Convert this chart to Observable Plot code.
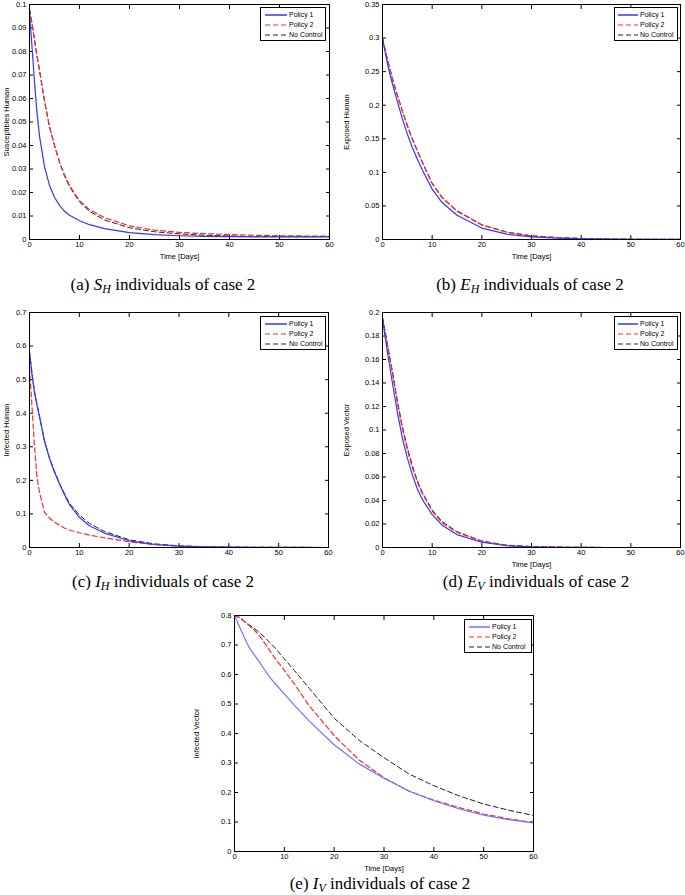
<!DOCTYPE html>
<html>
<head>
<meta charset="utf-8">
<script src="https://cdn.jsdelivr.net/npm/d3@7"></script>
<script src="https://cdn.jsdelivr.net/npm/@observablehq/plot@0.6"></script>
<style>
  body { margin: 0; background: #fff; }
  #fig { position: relative; width: 685px; height: 895px; overflow: hidden; background: #fff; }
  .panel { position: absolute; }
  .legend { position: absolute; background: #fff; border: 1px solid #000; box-sizing: border-box;
            font-family: "Liberation Sans", Arial, sans-serif; font-size: 7px; color: #000; }
  .legend .row { position: absolute; left: 0; height: 8px; line-height: 8px; white-space: nowrap; }
  .legend svg { position: absolute; top: 0; }
  .legend span { position: absolute; top: 0; }
  .caption { position: absolute; text-align: center; font-family: "Liberation Serif", "Times New Roman", serif;
             font-size: 17px; line-height: 18px; color: #000; white-space: nowrap; }
  .caption sub { font-size: 12px; line-height: 0; vertical-align: -3px; font-style: italic; }
</style>
</head>
<body>
<div id="fig"></div>
<script>
// ---------- data ----------
const time = [0, 0.5, 1, 1.5, 2, 3, 4, 5, 6, 7, 8, 10, 12, 15, 20, 25, 30, 35, 40, 45, 50, 55, 60];
const seriesNames = ["Policy 1", "Policy 2", "No Control"];
const xTicks = [0, 10, 20, 30, 40, 50, 60];

// (a) Susceptibles Human
const sHPolicy1   = [0.097, 0.082, 0.067, 0.054, 0.044, 0.031, 0.023, 0.018, 0.0145, 0.012, 0.0103, 0.008, 0.0063, 0.0046, 0.0029, 0.0021, 0.0016, 0.0013, 0.0012, 0.0011, 0.0011, 0.0011, 0.0011];
const sHPolicy2   = [0.098, 0.092, 0.085, 0.078, 0.072, 0.059, 0.048, 0.040, 0.033, 0.0275, 0.023, 0.0165, 0.0127, 0.0093, 0.0058, 0.0040, 0.0030, 0.0025, 0.0021, 0.0018, 0.0016, 0.0015, 0.0014];
const sHNoControl = [0.098, 0.092, 0.085, 0.078, 0.072, 0.059, 0.048, 0.040, 0.033, 0.027, 0.0225, 0.0160, 0.0120, 0.0083, 0.0050, 0.0033, 0.0024, 0.0018, 0.0015, 0.0013, 0.0012, 0.0012, 0.0012];
const sHTicks = [0, 0.01, 0.02, 0.03, 0.04, 0.05, 0.06, 0.07, 0.08, 0.09, 0.1];

// (b) Exposed Human
const eHPolicy1   = [0.300, 0.280, 0.262, 0.246, 0.232, 0.205, 0.180, 0.157, 0.137, 0.120, 0.104, 0.075, 0.055, 0.036, 0.017, 0.008, 0.004, 0.002, 0.001, 0.0005, 0.0003, 0.0002, 0.0001];
const eHPolicy2   = [0.300, 0.283, 0.267, 0.253, 0.239, 0.214, 0.191, 0.169, 0.149, 0.132, 0.115, 0.083, 0.062, 0.042, 0.0215, 0.0108, 0.0054, 0.003, 0.0016, 0.0008, 0.0004, 0.0002, 0.0001];
const eHNoControl = [0.300, 0.284, 0.268, 0.254, 0.240, 0.215, 0.192, 0.170, 0.150, 0.133, 0.116, 0.084, 0.063, 0.043, 0.022, 0.011, 0.0055, 0.003, 0.0015, 0.0008, 0.0004, 0.0002, 0.0001];
const eHTicks = [0, 0.05, 0.1, 0.15, 0.2, 0.25, 0.3, 0.35];

// (c) Infected Human
const iHPolicy1   = [0.580, 0.515, 0.462, 0.425, 0.390, 0.318, 0.266, 0.225, 0.190, 0.158, 0.128, 0.090, 0.065, 0.043, 0.020, 0.009, 0.004, 0.002, 0.001, 0.0005, 0.0002, 0.0001, 0];
const iHPolicy2   = [0.535, 0.420, 0.300, 0.210, 0.165, 0.105, 0.088, 0.076, 0.066, 0.058, 0.052, 0.044, 0.037, 0.029, 0.017, 0.009, 0.004, 0.002, 0.001, 0.0005, 0.0002, 0.0001, 0];
const iHNoControl = [0.585, 0.520, 0.465, 0.428, 0.392, 0.318, 0.267, 0.228, 0.192, 0.161, 0.132, 0.097, 0.072, 0.048, 0.023, 0.011, 0.005, 0.0025, 0.001, 0.0005, 0.0002, 0.0001, 0];
const iHTicks = [0, 0.1, 0.2, 0.3, 0.4, 0.5, 0.6, 0.7];

// (d) Exposed Vector
const eVPolicy1   = [0.195, 0.180, 0.166, 0.153, 0.140, 0.115, 0.093, 0.076, 0.062, 0.050, 0.041, 0.028, 0.019, 0.011, 0.0045, 0.0015, 0.0005, 0.0002, 0.0001, 0, 0, 0, 0];
const eVPolicy2   = [0.195, 0.183, 0.172, 0.160, 0.148, 0.123, 0.101, 0.083, 0.068, 0.056, 0.046, 0.031, 0.021, 0.013, 0.0052, 0.0018, 0.0007, 0.0003, 0.0001, 0, 0, 0, 0];
const eVNoControl = [0.196, 0.185, 0.173, 0.161, 0.150, 0.125, 0.103, 0.085, 0.070, 0.057, 0.047, 0.032, 0.022, 0.0135, 0.0055, 0.002, 0.0008, 0.0003, 0.0001, 0, 0, 0, 0];
const eVTicks = [0, 0.02, 0.04, 0.06, 0.08, 0.1, 0.12, 0.14, 0.16, 0.18, 0.2];

// (e) Infected Vector
const iVPolicy1   = [0.800, 0.781, 0.762, 0.743, 0.724, 0.690, 0.666, 0.642, 0.617, 0.593, 0.572, 0.534, 0.496, 0.442, 0.362, 0.297, 0.248, 0.205, 0.172, 0.145, 0.123, 0.108, 0.097];
const iVPolicy2   = [0.800, 0.797, 0.793, 0.788, 0.780, 0.765, 0.750, 0.732, 0.708, 0.683, 0.658, 0.614, 0.568, 0.494, 0.393, 0.310, 0.250, 0.205, 0.174, 0.149, 0.127, 0.111, 0.098];
const iVNoControl = [0.800, 0.797, 0.792, 0.786, 0.779, 0.768, 0.756, 0.742, 0.727, 0.710, 0.693, 0.653, 0.614, 0.553, 0.452, 0.377, 0.318, 0.263, 0.223, 0.189, 0.161, 0.140, 0.122];
const iVTicks = [0, 0.1, 0.2, 0.3, 0.4, 0.5, 0.6, 0.7, 0.8];

// ---------- layout ----------
const fig = document.getElementById("fig");
const fmt = d3.format("~g");

const panels = [
  {left: 0, top: 0, w: 340, h: 270, frame: [29, 329, 4, 239], ymax: 0.1, yTicks: sHTicks, ylabel: "Susceptibles Human", xlabel: true,
   vals: [sHPolicy1, sHPolicy2, sHNoControl], blue: "#3535ff",
   legend: [260, 7, 66, 34], sample: [4, 27],
   caption: {cx: 163, cy: 285, html: "(a) <i>S</i><sub>H</sub> individuals of case 2"}},
  {left: 340, top: 0, w: 345, h: 270, frame: [382, 680, 4, 239], ymax: 0.35, yTicks: eHTicks, ylabel: "Exposed Human", xlabel: true,
   vals: [eHPolicy1, eHPolicy2, eHNoControl], blue: "#3535ff",
   legend: [614, 7, 64, 34], sample: [3, 24],
   caption: {cx: 530, cy: 285, html: "(b) <i>E</i><sub>H</sub> individuals of case 2"}},
  {left: 0, top: 300, w: 340, h: 270, frame: [29, 328, 312, 547], ymax: 0.7, yTicks: iHTicks, ylabel: "Infected Human", xlabel: false,
   vals: [iHPolicy1, iHPolicy2, iHNoControl], blue: "#3535ff",
   legend: [260, 316, 66, 34], sample: [4, 27],
   caption: {cx: 163, cy: 582, html: "(c) <i>I</i><sub>H</sub> individuals of case 2"}},
  {left: 340, top: 300, w: 345, h: 270, frame: [382, 680, 312, 547], ymax: 0.2, yTicks: eVTicks, ylabel: "Exposed Vector", xlabel: true,
   vals: [eVPolicy1, eVPolicy2, eVNoControl], blue: "#3535ff",
   legend: [614, 316, 64, 34], sample: [3, 24],
   caption: {cx: 536, cy: 582, html: "(d) <i>E</i><sub>V</sub> individuals of case 2"}},
  {left: 190, top: 605, w: 360, h: 270, frame: [234, 533, 615, 851], ymax: 0.8, yTicks: iVTicks, ylabel: "Infected Vector", xlabel: true,
   vals: [iVPolicy1, iVPolicy2, iVNoControl], blue: "#7272ff",
   legend: [464, 619, 68, 34], sample: [4, 26],
   caption: {cx: 380, cy: 884, html: "(e) <i>I</i><sub>V</sub> individuals of case 2"}}
];

const dashes = [null, "5,3", "5,3"];
const widths = [1.2, 1.2, 1.0];

for (const p of panels) {
  const colors = [p.blue, "#ff2a2a", "#222222"];
  const [fl, fr, ft, fb] = p.frame;
  const rows = [];
  seriesNames.forEach((name, s) => time.forEach((t, i) => rows.push({series: name, s, t, v: p.vals[s][i]})));

  const marks = [
    Plot.axisX({ticks: xTicks, tickSize: -4, tickPadding: 6, tickFormat: fmt, label: p.xlabel ? "Time [Days]" : null,
                labelAnchor: "center", labelOffset: 19, labelArrow: "none"}),
    Plot.axisX({anchor: "top", ticks: xTicks, tickSize: -4, tickFormat: () => "", label: null}),
    Plot.axisY({ticks: p.yTicks, tickSize: -4, tickPadding: 7, tickFormat: fmt, label: p.ylabel,
                labelAnchor: "center", labelOffset: fl - p.left - 3, labelArrow: "none"}),
    Plot.axisY({anchor: "right", ticks: p.yTicks, tickSize: -4, tickFormat: () => "", label: null}),
  ];
  // draw No Control first, then Policy 2, then Policy 1 on top
  [2, 1, 0].forEach(s => {
    marks.push(Plot.line(rows.filter(r => r.s === s), {x: "t", y: "v", stroke: colors[s], strokeWidth: widths[s],
      strokeDasharray: dashes[s] || undefined}));
  });
  marks.push(Plot.frame({stroke: "#000", strokeWidth: 1}));

  const svg = Plot.plot({
    width: p.w, height: p.h,
    marginLeft: fl - p.left, marginRight: p.left + p.w - fr,
    marginTop: ft - p.top, marginBottom: p.top + p.h - fb,
    x: {domain: [0, 60]},
    y: {domain: [0, p.ymax]},
    style: {fontFamily: "'Liberation Sans', Arial, sans-serif", fontSize: "7.5px", background: "transparent", color: "#000"},
    marks
  });
  const wrap = document.createElement("div");
  wrap.className = "panel";
  wrap.style.left = p.left + "px";
  wrap.style.top = p.top + "px";
  wrap.appendChild(svg);
  fig.appendChild(wrap);

  // legend
  const [lx, ly, lw, lh] = p.legend;
  const lg = document.createElement("div");
  lg.className = "legend";
  Object.assign(lg.style, {left: lx + "px", top: ly + "px", width: lw + "px", height: lh + "px"});
  seriesNames.forEach((name, s) => {
    const row = document.createElement("div");
    row.className = "row";
    row.style.top = (3 + s * 10) + "px";
    const ns = "http://www.w3.org/2000/svg";
    const sv = document.createElementNS(ns, "svg");
    sv.setAttribute("width", 30); sv.setAttribute("height", 8);
    sv.style.left = p.sample[0] + "px";
    const ln = document.createElementNS(ns, "line");
    ln.setAttribute("x1", 0); ln.setAttribute("x2", p.sample[1] - p.sample[0] - 1);
    ln.setAttribute("y1", 4); ln.setAttribute("y2", 4);
    ln.setAttribute("stroke", colors[s]); ln.setAttribute("stroke-width", s === 0 ? 1.5 : 1.2);
    if (dashes[s]) ln.setAttribute("stroke-dasharray", dashes[s]);
    sv.appendChild(ln);
    row.appendChild(sv);
    const sp = document.createElement("span");
    sp.textContent = name;
    sp.style.left = (p.sample[1] + 1) + "px";
    row.appendChild(sp);
    lg.appendChild(row);
  });
  fig.appendChild(lg);

  // caption
  const cap = document.createElement("div");
  cap.className = "caption";
  cap.innerHTML = p.caption.html;
  fig.appendChild(cap);
  const r = cap.getBoundingClientRect();
  cap.style.left = (p.caption.cx - r.width / 2) + "px";
  cap.style.top = (p.caption.cy - r.height / 2) + "px";
}
</script>
</body>
</html>
